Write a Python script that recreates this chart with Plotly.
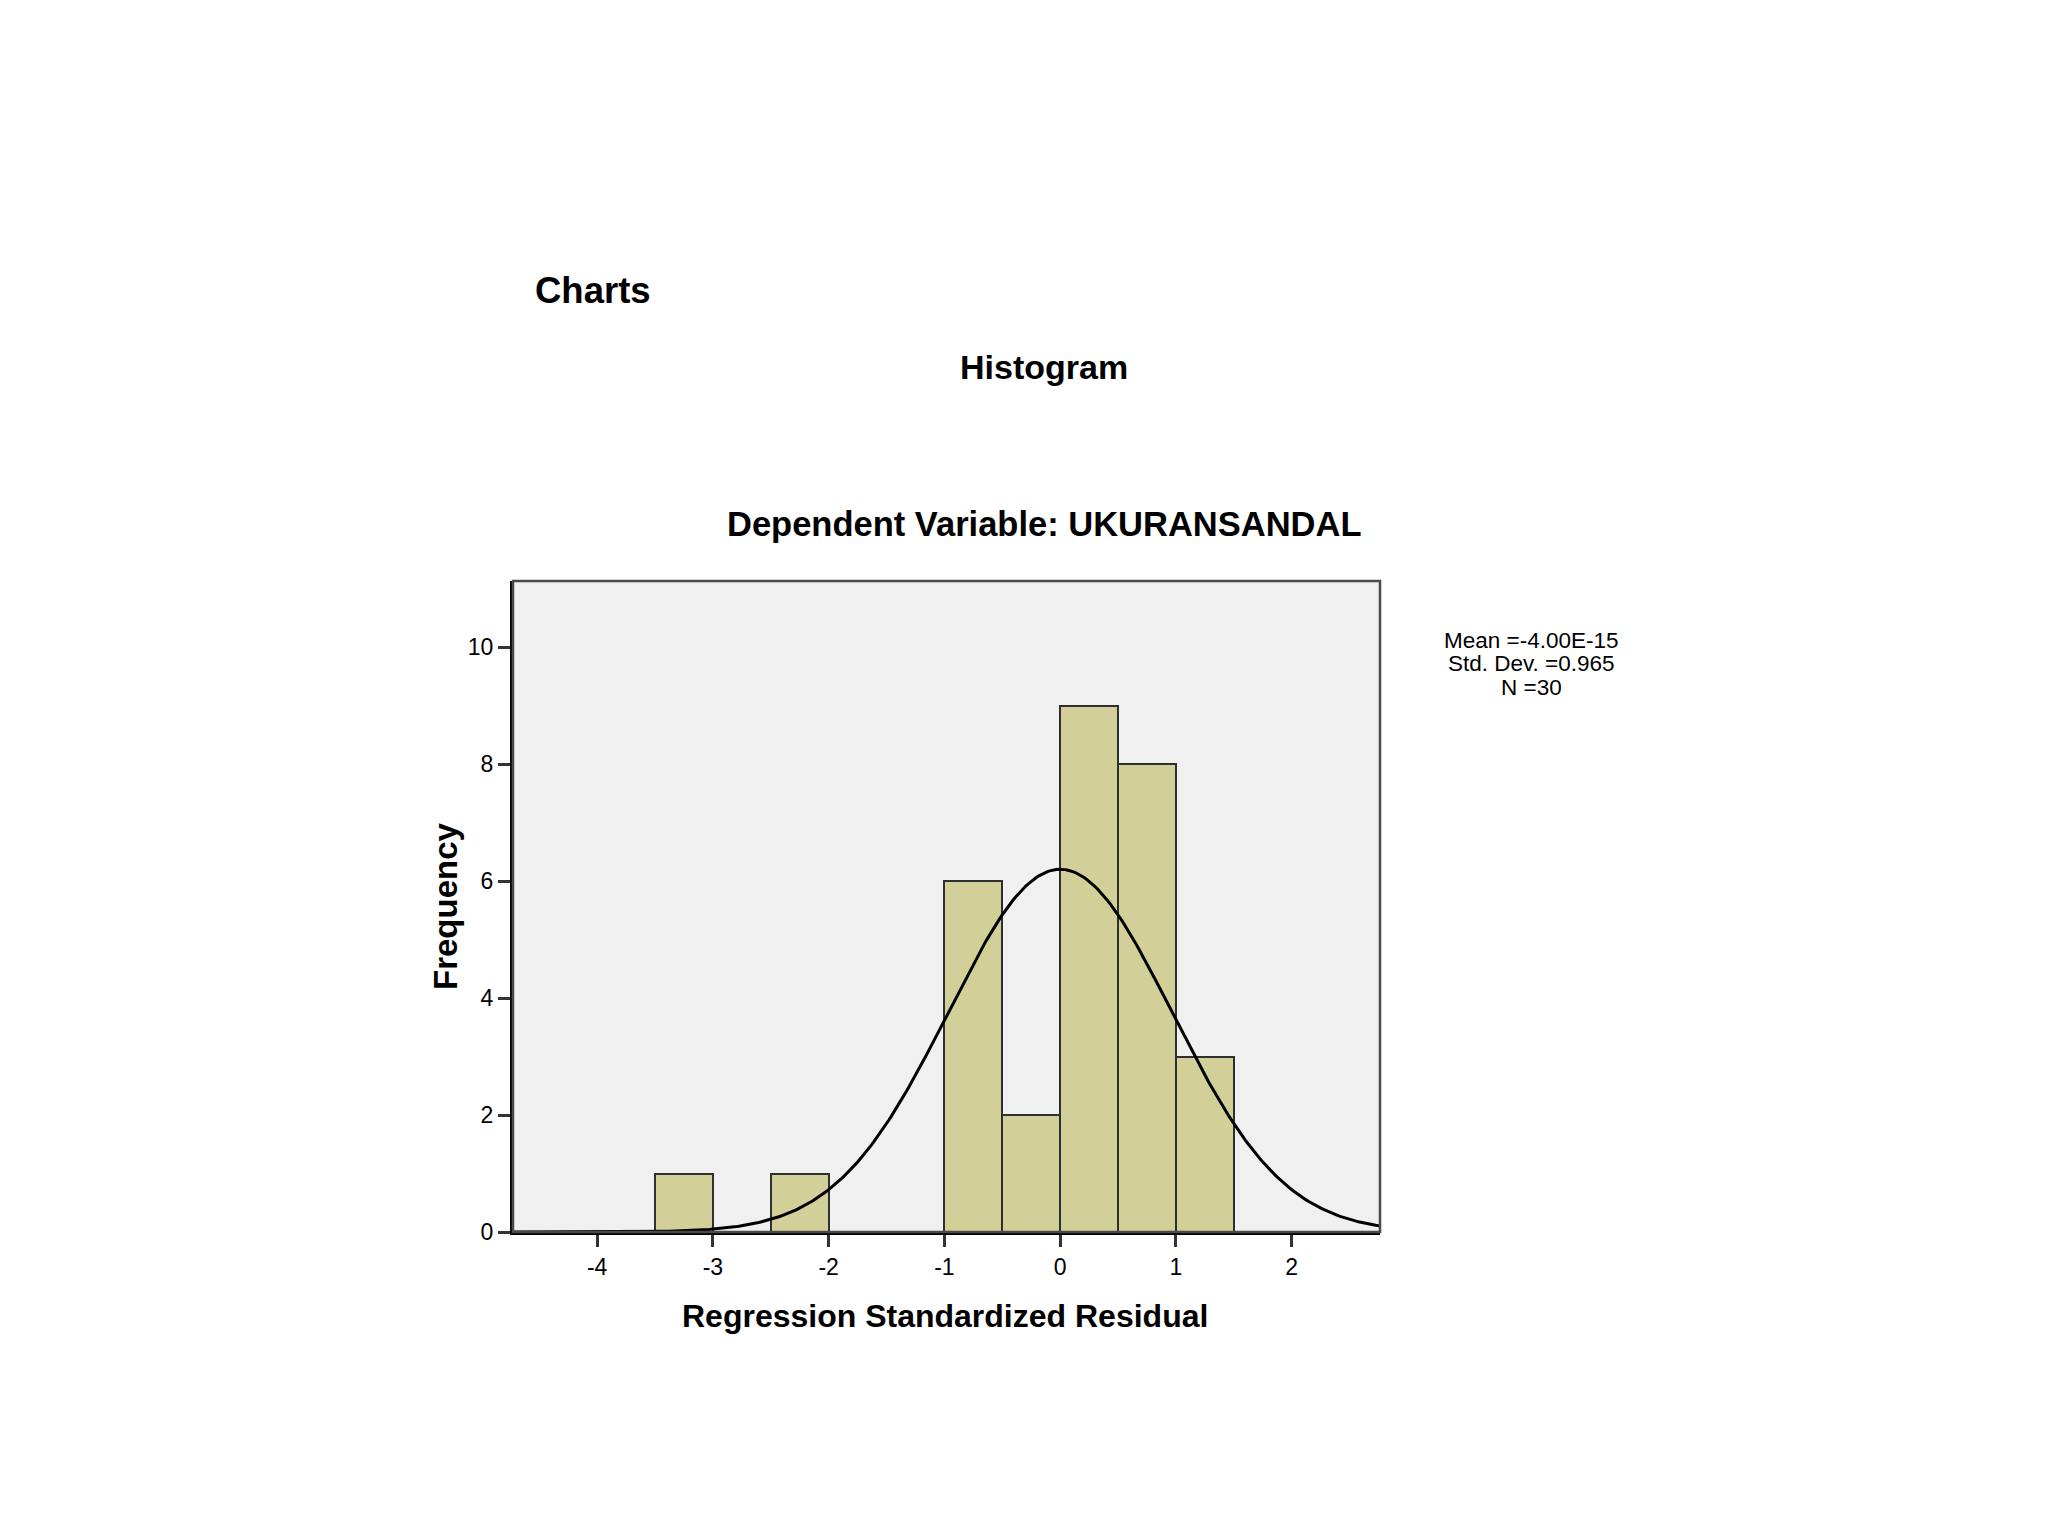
import numpy as np
import plotly.graph_objects as go

# ---- data ----
bin_left = [-3.5, -3.0, -2.5, -2.0, -1.5, -1.0, -0.5, 0.0, 0.5, 1.0]
bin_count = [1, 0, 1, 0, 0, 6, 2, 9, 8, 3]
bin_width = 0.5
stat_mean = -4.00e-15
stat_sd = 0.965
stat_n = 30
x_ticks = [-4, -3, -2, -1, 0, 1, 2]
y_ticks = [0, 2, 4, 6, 8, 10]
x_range = [-4.727, 2.763]
y_range = [0, 11.13]

# page coordinates (the figure div sits at 8px body margin)
OFF = 8
W, H = 2048 - 2 * OFF, 1536 - 2 * OFF
L, R, T, B = 513, 1380, 581, 1232
pw, ph = R - L, B - T

def px(x):
    return (x - L) / pw

def py(y):
    return (B - y) / ph

FONT = "Liberation Sans, Arial, Helvetica, sans-serif"

fig = go.Figure()

centers = [b + bin_width / 2 for b in bin_left]
fig.add_trace(go.Bar(
    x=centers, y=bin_count, width=bin_width,
    marker=dict(color="#D3CF98", line=dict(color="#2f2f2f", width=2)),
    hoverinfo="skip", showlegend=False,
))

# fitted normal curve from the displayed statistics
xc = np.linspace(x_range[0], x_range[1], 400)
yc = stat_n * bin_width / (stat_sd * np.sqrt(2 * np.pi)) * np.exp(-0.5 * ((xc - stat_mean) / stat_sd) ** 2)
fig.add_trace(go.Scatter(x=xc, y=yc, mode="lines",
                         line=dict(color="#000000", width=3),
                         hoverinfo="skip", showlegend=False))

# plot frame (top/right gray)
fig.add_shape(type="rect", xref="paper", yref="paper", x0=0, x1=1, y0=0, y1=1,
              line=dict(color="#4a4a4a", width=2.5), fillcolor="rgba(0,0,0,0)", layer="above")

ann = []
def add_text(text, x, y, size, bold=False, xanchor="center", textangle=0):
    ann.append(dict(text=("<b>%s</b>" % text) if bold else text, x=x, y=y,
                    xref="paper", yref="paper", xanchor=xanchor, yanchor="middle",
                    showarrow=False, textangle=textangle,
                    font=dict(family=FONT, size=size, color="#000000")))

add_text("Charts", px(533), py(290), 36.5, bold=True, xanchor="left")
add_text("Histogram", px(1043.5), py(367), 34, bold=True)
add_text("Dependent Variable: UKURANSANDAL", px(1044), py(524), 34.5, bold=True)
add_text("Regression Standardized Residual", px(945), py(1316), 32, bold=True)
add_text("Frequency", px(445), py(906), 33, bold=True, textangle=-90)
add_text("Mean =-4.00E-15", px(1531), py(640), 22.5)
add_text("Std. Dev. =0.965", px(1531), py(663), 22.5)
add_text("N =30", px(1531), py(687), 22.5)

fig.update_layout(
    width=W, height=H,
    margin=dict(l=L - OFF, r=W - (R - OFF), t=T - OFF, b=H - (B - OFF), pad=0),
    paper_bgcolor="#ffffff", plot_bgcolor="#F0F0F0",
    bargap=0, annotations=ann, showlegend=False,
    font=dict(family=FONT, color="#000000"),
)
fig.update_xaxes(range=x_range, tickvals=x_ticks, ticktext=[str(v) for v in x_ticks],
                 showgrid=False, zeroline=False, showline=True, linecolor="#000000", linewidth=3,
                 ticks="outside", ticklen=12, tickwidth=2.5, tickcolor="#333333",
                 tickfont=dict(family=FONT, size=23, color="#000000"))
fig.update_yaxes(range=y_range, tickvals=y_ticks, ticktext=[str(v) for v in y_ticks],
                 showgrid=False, zeroline=False, showline=True, linecolor="#000000", linewidth=3,
                 ticks="outside", ticklen=12, tickwidth=2.5, tickcolor="#333333",
                 tickfont=dict(family=FONT, size=23, color="#000000"))

fig.write_html("out.html")
